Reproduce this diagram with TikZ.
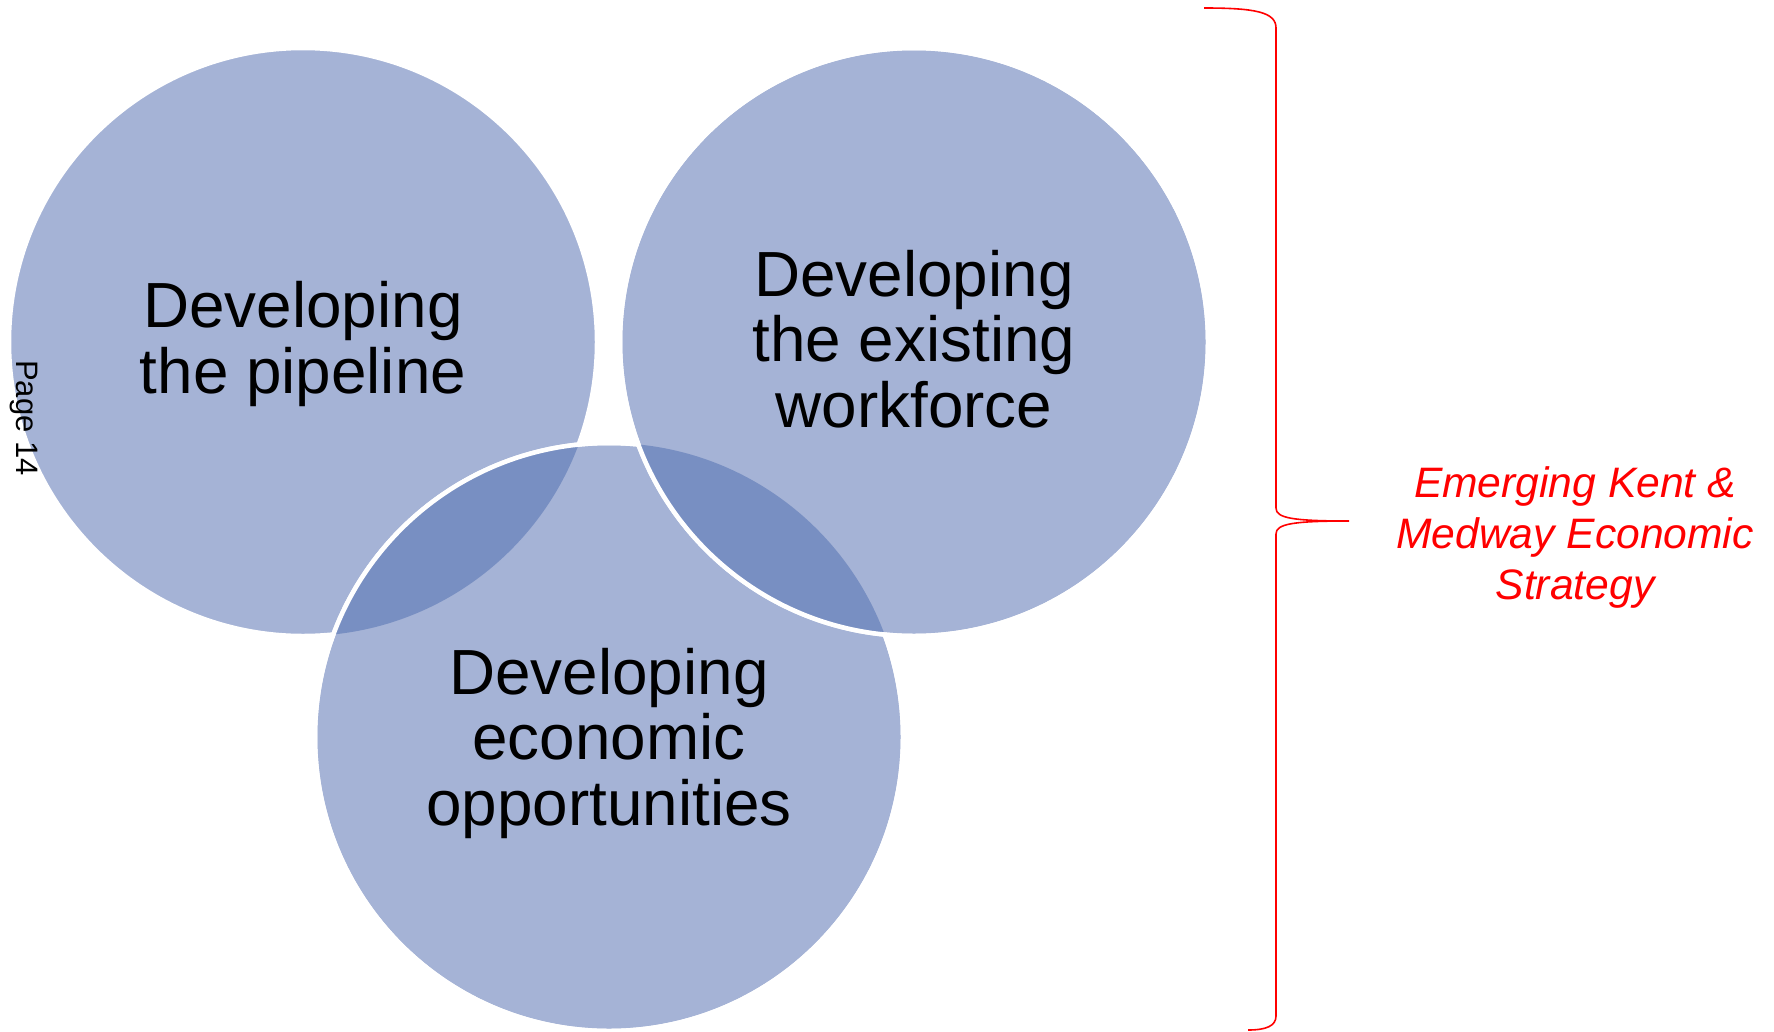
\documentclass[tikz,border=0pt]{standalone}
\usepackage{fontspec}
\setmainfont{Liberation Sans}
\definecolor{vfill}{RGB}{165,179,214}
\definecolor{vdark}{RGB}{120,143,194}
\definecolor{bracered}{RGB}{255,0,0}
\begin{document}
\begin{tikzpicture}[x=1pt,y=-1pt,
  circ/.style={fill=vfill, draw=white, line width=4.5pt},
  rim/.style={draw=white, line width=4.5pt},
  lens/.style={fill=vdark},
  lbl/.style={font=\fontsize{63.8}{65.5}\selectfont, align=center, text=black, inner sep=0pt},
  note/.style={font=\fontsize{42.6}{51}\selectfont\itshape, align=center, text=bracered, inner sep=0pt},
  brace/.style={draw=bracered, line width=1.6pt}]
\useasboundingbox (0,0) rectangle (1774,1031);
\coordinate (cL) at (303,342);
\coordinate (cR) at (914,342);
\coordinate (cB) at (609,737);
% left circle
\path[circ] (cL) circle[radius=294pt];
% bottom circle
\path[circ] (cB) circle[radius=294pt];
\begin{scope}
  \clip (cL) circle[radius=294pt];
  \path[lens] (cB) circle[radius=294pt];
\end{scope}
\path[rim] (cB) circle[radius=294pt];
% right circle
\path[circ] (cR) circle[radius=294pt];
\begin{scope}
  \clip (cR) circle[radius=294pt];
  \path[lens] (cB) circle[radius=294pt];
\end{scope}
\path[rim] (cR) circle[radius=294pt];
% labels
\node[lbl] (tL) at ([yshift=-2pt]cL) {Developing\\the pipeline};
\node[lbl] (tR) at ([yshift=3pt]cR) {Developing\\the existing\\workforce};
\node[lbl] (tB) at ([yshift=-6pt]cB) {Developing\\economic\\opportunities};
\node[font=\fontsize{31}{34}\selectfont, rotate=-90, inner sep=0pt] (pg) at (24,418) {Page 14};
% brace
\coordinate (bTop) at (1204,8);
\coordinate (bTip) at (1349,521);
\coordinate (bBot) at (1248,1030);
\path[brace] (bTop) .. controls (1255,8) and (1276,12) .. (1276,28)
  -- (1276,508) .. controls (1276,518) and (1292,521) .. (bTip)
  .. controls (1292,521) and (1276,524) .. (1276,534)
  -- (1276,1016) .. controls (1276,1026) and (1266,1030) .. (bBot);
\node[note] (eks) at (1575,537) {Emerging Kent \&\\Medway Economic\\Strategy};
\end{tikzpicture}
\end{document}
